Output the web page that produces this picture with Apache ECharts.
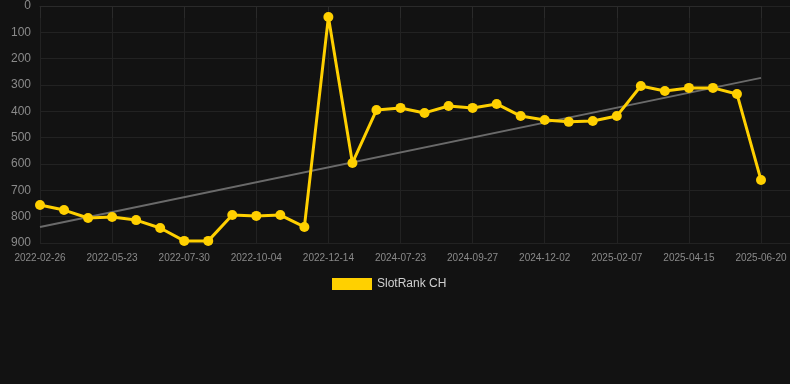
<!DOCTYPE html>
<html><head><meta charset="utf-8">
<script src="https://cdn.jsdelivr.net/npm/echarts@6/dist/echarts.min.js"></script>
<style>html,body{margin:0;padding:0;background:#121212;}#c{width:790px;height:384px;}</style>
</head><body><div id="c"></div>
<script>
const categories = ["2022-02-26","2022-03-26","2022-04-24","2022-05-23","2022-06-14","2022-07-08","2022-07-30","2022-08-21","2022-09-12","2022-10-04","2022-10-28","2022-11-20","2022-12-14","2024-05-10","2024-06-16","2024-07-23","2024-08-14","2024-09-05","2024-09-27","2024-10-19","2024-11-10","2024-12-02","2024-12-24","2025-01-16","2025-02-07","2025-02-28","2025-03-24","2025-04-15","2025-05-07","2025-05-29","2025-06-20"];
const seriesName = "SlotRank CH";
const rankValues = [756,775,805,801,813,843,892,892,794,797,794,839,42,596,395,387,406,380,387,372,418,433,440,437,418,304,323,311,311,334,661];
const trendStart = 839;
const trendEnd = 273;
const yTicks = [0,100,200,300,400,500,600,700,800,900];

const trendData = categories.map((c,i)=> i===0 ? trendStart : (i===categories.length-1 ? trendEnd : null));

const chart = echarts.init(document.getElementById('c'));
chart.setOption({
  backgroundColor:'#121212',
  animation:false,
  grid:[
    {left:40,right:29,top:6,bottom:141},
    {left:40,right:0,top:6,bottom:141}
  ],
  legend:{
    data:[{name:seriesName}],
    top:278, left:332, padding:0,
    itemWidth:40,itemHeight:12,itemGap:6,
    icon:'rect',
    textStyle:{color:'#d0d0d0',fontSize:12,fontFamily:'Arial, Liberation Sans, sans-serif'}
  },
  xAxis:[{
    type:'category',
    gridIndex:0,
    data:categories,
    boundaryGap:false,
    axisLine:{show:true,lineStyle:{color:'#2a2a2a'}},
    axisTick:{show:true,interval:2,length:12,lineStyle:{color:'#2a2a2a'}},
    axisLabel:{interval:2,color:'#8a8a8a',fontSize:10,margin:10,fontFamily:'Arial, Liberation Sans, sans-serif'},
    splitLine:{show:true,interval:2,lineStyle:{color:'#222222'}}
  },{
    type:'value',gridIndex:1,min:0,max:1,show:false
  }],
  yAxis:[{
    type:'value',
    gridIndex:0,
    inverse:true,
    min:yTicks[0],max:yTicks[yTicks.length-1],interval:100,
    axisLine:{show:false},
    axisTick:{show:false},
    axisLabel:{color:'#8a8a8a',fontSize:12,margin:9,fontFamily:'Arial, Liberation Sans, sans-serif'},
    splitLine:{show:true,lineStyle:{color:'#222222'}}
  },{
    type:'value',
    gridIndex:1,
    inverse:true,
    min:yTicks[0],max:yTicks[yTicks.length-1],interval:100,
    axisLine:{show:false},
    axisTick:{show:false},
    axisLabel:{show:false},
    splitLine:{show:true,lineStyle:{color:'#222222'}},
    z:0
  }],
  series:[
    {
      name:'trend',
      type:'line',
      data:trendData,
      connectNulls:true,
      symbol:'none',
      lineStyle:{color:'#6a6a6a',width:2},
      silent:true,
      z:1
    },
    {
      name:seriesName,
      type:'line',
      data:rankValues,
      symbol:'circle',
      symbolSize:10,
      itemStyle:{color:'#FFD000'},
      lineStyle:{color:'#FFD000',width:3},
      z:3
    }
  ]
});
</script></body></html>
